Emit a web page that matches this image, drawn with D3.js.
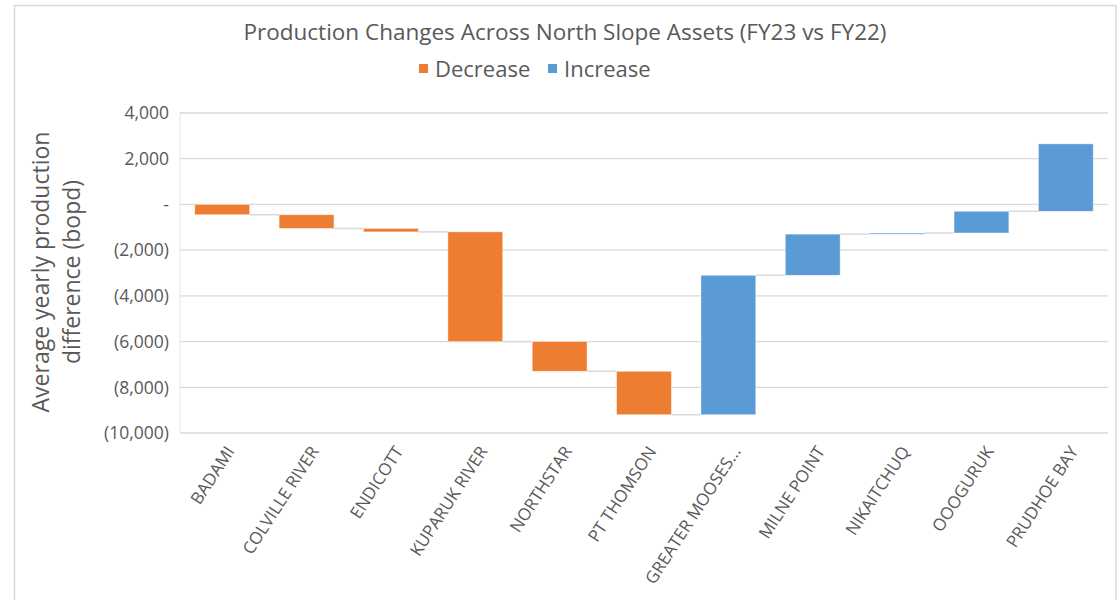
<!DOCTYPE html>
<html>
<head>
<meta charset="utf-8">
<script src="https://cdn.jsdelivr.net/npm/d3@7"></script>
<style>
  body { margin: 0; background: #fff; }
  svg text { font-family: "Open Sans", "Noto Sans", sans-serif; fill: #595959; }
</style>
</head>
<body>
<div class="chart"></div>
<script>
const assets = ["BADAMI", "COLVILLE RIVER", "ENDICOTT", "KUPARUK RIVER", "NORTHSTAR", "PT THOMSON",
  "GREATER MOOSES...", "MILNE POINT", "NIKAITCHUQ", "OOOGURUK", "PRUDHOE BAY"];
const changes = [-450, -600, -150, -4800, -1300, -1900, 6100, 1800, 50, 950, 2950];
const yTicks = [4000, 2000, 0, -2000, -4000, -6000, -8000, -10000];
const legendItems = ["Decrease", "Increase"];

const colors = { Decrease: "#ED7D31", Increase: "#5B9BD5" };
const W = 1120, H = 600;
const m = { left: 180, right: 1108, top: 113, bottom: 433 };

let svg, x, y, totals;

const createChart = () => {
  svg = d3.select(".chart")
    .append("svg")
    .attr("width", W)
    .attr("height", H);

  // outer frame of the pasted chart
  svg.append("path")
    .attr("d", `M14.5,${H} V5.5 H1116 V${H}`)
    .attr("fill", "none")
    .attr("stroke", "#d9d9d9")
    .attr("stroke-width", 1.5);
};

const createScales = () => {
  x = d3.scaleBand()
    .domain(assets)
    .range([m.left, m.right])
    .paddingInner(0.35)
    .paddingOuter(0.175);

  y = d3.scaleLinear()
    .domain([d3.min(yTicks), d3.max(yTicks)])
    .range([m.bottom, m.top]);

  totals = Array.from(d3.cumsum(changes));
};

const fmt = v => v === 0 ? "-" : v < 0 ? `(${d3.format(",")(-v)})` : d3.format(",")(v);

const createAxes = () => {
  svg.append("g")
    .selectAll("line")
    .data(yTicks)
    .enter()
    .append("line")
    .attr("x1", m.left)
    .attr("x2", m.right)
    .attr("y1", d => y(d))
    .attr("y2", d => y(d))
    .attr("stroke", "#d9d9d9")
    .attr("stroke-width", 1.3);

  svg.append("line")
    .attr("x1", m.left).attr("x2", m.left)
    .attr("y1", m.top).attr("y2", m.bottom)
    .attr("stroke", "#e6e6e6");

  svg.append("g")
    .selectAll("text")
    .data(yTicks)
    .enter()
    .append("text")
    .attr("x", 169)
    .attr("y", d => y(d))
    .attr("dy", "0.36em")
    .attr("text-anchor", "end")
    .style("font-size", "17.5px")
    .text(fmt);

  svg.append("g")
    .selectAll("text")
    .data(assets)
    .enter()
    .append("text")
    .attr("transform", d => `translate(${x(d) + x.bandwidth() / 2 + 8}, 448) rotate(-57)`)
    .attr("text-anchor", "end")
    .attr("dy", "0.35em")
    .style("font-size", "17px")
    .text(d => d);

  const ytitle = svg.append("text")
    .attr("transform", "translate(0, 272) rotate(-90)")
    .attr("text-anchor", "middle")
    .style("font-size", "23px");
  ytitle.append("tspan").attr("x", 0).attr("y", 49).text("Average yearly production");
  ytitle.append("tspan").attr("x", 0).attr("y", 80).text("difference (bopd)");
};

const createBars = () => {
  const bars = assets.map((a, i) => ({
    name: a,
    start: i === 0 ? 0 : totals[i - 1],
    end: totals[i],
    type: changes[i] < 0 ? "Decrease" : "Increase"
  }));

  // connectors between bars at running total
  svg.append("g")
    .selectAll("line")
    .data(bars.slice(0, -1))
    .enter()
    .append("line")
    .attr("x1", d => x(d.name) + x.bandwidth())
    .attr("x2", (d, i) => x(assets[i + 1]))
    .attr("y1", d => y(d.end))
    .attr("y2", d => y(d.end))
    .attr("stroke", "#d9d9d9")
    .attr("stroke-width", 1.5);

  svg.append("g")
    .selectAll("rect")
    .data(bars)
    .enter()
    .append("rect")
    .attr("x", d => x(d.name))
    .attr("width", x.bandwidth())
    .attr("y", d => y(Math.max(d.start, d.end)))
    .attr("height", d => Math.max(1, Math.abs(y(d.start) - y(d.end))))
    .attr("fill", d => colors[d.type])
    .attr("stroke", "#fff")
    .attr("stroke-opacity", 0.5)
    .attr("stroke-width", 0.8);
};

const createHeading = () => {
  svg.append("text")
    .attr("x", 565)
    .attr("y", 40)
    .attr("text-anchor", "middle")
    .style("font-size", "22.5px")
    .text("Production Changes Across North Slope Assets (FY23 vs FY22)");

  const lx = [419, 548];
  const legend = svg.append("g")
    .selectAll("g")
    .data(legendItems)
    .enter()
    .append("g")
    .attr("transform", (d, i) => `translate(${lx[i]}, 0)`);

  legend.append("rect")
    .attr("x", 0).attr("y", 64)
    .attr("width", 9).attr("height", 9)
    .attr("fill", d => colors[d]);

  legend.append("text")
    .attr("x", 16)
    .attr("y", 77)
    .style("font-size", "22px")
    .text(d => d);
};

createChart();
createScales();
createAxes();
createBars();
createHeading();
</script>
</body>
</html>
